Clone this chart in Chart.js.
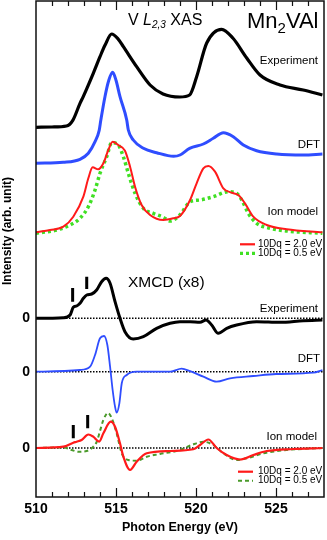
<!DOCTYPE html>
<html>
<head>
<meta charset="utf-8">
<script src="https://cdn.jsdelivr.net/npm/chart.js@4.4.1/dist/chart.umd.min.js"></script>
<style>
  html, body { margin: 0; padding: 0; background: #fff; }
</style>
</head>
<body>
<canvas id="mcd-chart" width="327" height="540"></canvas>
<script>
const FONT = '"Liberation Sans", Arial, Helvetica, sans-serif';

// photon energy axis (eV)
const eMin = 510;
const eMax = 528;
const xTicks = [510, 515, 520, 525];

// baselines of the stacked traces (arb. unit)
const baseXasExp = 369.7;
const baseXasDft = 333.7;
const baseXasIon = 264.7;
const zeroMcdExp = 178.7;
const zeroMcdDft = 125.3;
const zeroMcdIon = 49;
const zeroLevels = [zeroMcdExp, zeroMcdDft, zeroMcdIon];

// V L2,3 XAS - experiment
const xasExpE = [510.0, 511.0, 511.9, 512.3, 512.75, 512.96, 513.58, 514.0, 514.31, 514.73, 515.1, 515.46, 516.29, 517.13, 517.94, 519.0, 519.6, 520.04, 520.67, 521.6, 522.3, 523.17, 524.0, 525.25, 526.7, 527.9];
const xasExp = [0, 0.3, 1.3, 7, 24, 31, 54, 70.6, 82, 93.3, 89, 80.6, 60.6, 42.3, 33.3, 30.3, 32.3, 50.6, 84.3, 98, 89.3, 69.3, 52.3, 42.3, 37.3, 32.3];

// XAS - DFT
const xasDftE = [510.0, 511.7, 512.75, 513.27, 513.69, 513.95, 514.05, 514.31, 514.55, 514.79, 515.0, 515.25, 515.67, 515.77, 516.08, 516.71, 517.54, 518.6, 519.0, 519.6, 520.46, 521.08, 521.71, 522.33, 522.96, 523.79, 525.04, 526.71, 527.9];
const xasDft = [0, 1, 4, 10, 21.6, 33, 43, 66.6, 83, 91, 83, 66.6, 43.3, 33.3, 23.3, 15, 10.6, 7, 8.3, 15, 19.3, 25, 30.6, 26.6, 18.3, 12.6, 9.3, 8.3, 9.3];

// XAS - ion model, 10Dq = 2.0 eV
const xasIon20E = [510.0, 510.88, 511.71, 512.33, 512.96, 513.27, 513.54, 513.89, 514.21, 514.52, 514.79, 515.14, 515.56, 515.88, 516.19, 516.6, 517.13, 517.96, 518.58, 519.0, 519.63, 520.04, 520.46, 520.77, 521.19, 521.71, 522.23, 522.64, 523.06, 523.58, 524.42, 525.67, 527.9];
const xasIon20 = [0, 2.3, 5.6, 15.6, 35.6, 54, 65, 63, 69, 82.3, 90.6, 87.3, 81.6, 65.6, 45.6, 27.3, 17.3, 12.3, 14, 16.3, 32.3, 49, 64, 66.3, 60.6, 44, 39.6, 37.3, 29, 15.6, 7.3, 3, 0];

// XAS - ion model, 10Dq = 0.5 eV
const xasIon05E = [510.0, 511.29, 512.13, 512.75, 513.27, 513.69, 514.0, 514.42, 514.73, 515.14, 515.46, 515.77, 516.19, 516.71, 517.33, 517.96, 518.38, 519.0, 519.63, 520.25, 521.08, 522.02, 522.54, 522.86, 523.27, 523.79, 524.63, 525.67, 527.9];
const xasIon05 = [-1, 2.3, 7.3, 14, 25.6, 42.3, 59, 75.6, 89.6, 87.3, 75.6, 59, 39, 24, 19, 15, 11.3, 17.5, 30.6, 32.3, 35.6, 40.6, 39, 32.3, 19, 9, 4, 1.3, -1];

// XMCD (x8) - experiment
const mcdExpE = [510.0, 511.71, 512.13, 512.33, 512.54, 512.75, 512.96, 513.17, 513.48, 513.79, 514.1, 514.38, 514.63, 514.94, 515.25, 515.56, 516.08, 516.71, 517.54, 518.38, 519.0, 519.63, 520.25, 520.63, 520.98, 521.39, 521.92, 522.54, 523.79, 525.25, 526.7, 527.9];
const mcdExp = [0, 0.6, 3.3, 11, 12.3, 15, 20, 23.3, 24.3, 28.3, 36.6, 40, 35, 16.6, 0, -13.4, -20.7, -18.4, -10, -5, -3.4, -3.4, -4, -1.7, -6.7, -15, -10, -6.7, -3.4, -4, -2.4, -1.7];

// XMCD - DFT
const mcdDftE = [510.0, 512.75, 513.38, 513.69, 514.0, 514.25, 514.46, 514.63, 514.79, 514.94, 515.04, 515.21, 515.36, 515.67, 516.29, 517.54, 518.4, 519.1, 519.63, 520.46, 521.29, 522.13, 523.58, 525.0, 527.33, 527.9];
const mcdDft = [0, 1.7, 5, 16.7, 33.4, 35.7, 26.7, 5, -18.3, -35, -41, -31.6, -11.6, -3.3, 0, 0, 0, 3, 0.5, -5, -10, -6.6, -4.3, -2.3, -1, 1.7];

// XMCD - ion model, 10Dq = 2.0 eV
const mcdIon20E = [510.0, 511.71, 512.33, 512.54, 512.85, 513.27, 513.58, 513.95, 514.21, 514.67, 514.94, 515.25, 515.46, 515.88, 516.29, 516.92, 518.38, 519.83, 520.25, 520.77, 521.29, 521.92, 522.75, 523.58, 524.42, 526.08, 527.9];
const mcdIon20 = [0, 1.3, 5.3, 6.3, 8, 13.5, 11.3, 6.3, 14.7, 26.3, 21.3, 4.7, -8.7, -22, -13.7, -5.3, -3, -1.3, 3, 8.5, 0, -7, -11.5, -7, -3, -1, 0];

// XMCD - ion model, 10Dq = 0.5 eV
const mcdIon05E = [510.0, 511.71, 512.23, 512.64, 513.17, 513.58, 513.79, 514.0, 514.21, 514.5, 514.73, 515.04, 515.36, 515.77, 516.29, 516.92, 517.75, 519.0, 519.73, 520.46, 521.08, 521.71, 522.54, 523.17, 524.21, 525.67, 527.9];
const mcdIon05 = [0, 0.5, -2, -3.7, -3, 1.3, 6, 17, 28, 35, 30, 14.7, -5.3, -12, -12.7, -8.7, -6, -2, 3, 6.3, 3, -5.3, -12, -10.3, -5.3, -2, 0];

// multiplet markers (energy, bottom, top) relative to zero line
const markExpE = [512.29, 513.17];
const markExpLo = [16.6, 29.3];
const markExpHi = [30.3, 41.6];
const markIonE = [512.33, 513.23];
const markIonLo = [9.7, 19.7];
const markIonHi = [23, 33];

const trace = (es, vs, base) => es.map((e, i) => ({ x: e, y: vs[i] + base }));
const bars = (es, lo, hi, base) => es.flatMap((e, i) => [
  { x: e, y: lo[i] + base }, { x: e, y: hi[i] + base }, { x: e, y: NaN }
]);
const zeroLine = base => [{ x: eMin, y: base }, { x: eMax, y: base }];

const line = (data, color, width, extra) => Object.assign({
  data: data,
  borderColor: color,
  borderWidth: width,
  pointRadius: 0,
  fill: false,
  cubicInterpolationMode: 'monotone'
}, extra || {});

const decor = {
  id: 'decor',
  afterDraw(chart) {
    const { ctx, chartArea: a, scales: { x } } = chart;
    ctx.save();
    // frame
    ctx.strokeStyle = '#111';
    ctx.lineWidth = 1.5;
    ctx.strokeRect(a.left, a.top, a.right - a.left, a.bottom - a.top);
    // inward ticks, top and bottom
    ctx.lineWidth = 1.2;
    ctx.beginPath();
    for (let e = eMin + 1; e < eMax; e++) {
      const px = Math.round(x.getPixelForValue(e)) + 0.5;
      const len = e % 5 === 0 ? 9 : 5;
      ctx.moveTo(px, a.bottom); ctx.lineTo(px, a.bottom - len);
      ctx.moveTo(px, a.top); ctx.lineTo(px, a.top + len);
    }
    ctx.stroke();

    ctx.fillStyle = '#000';
    ctx.textBaseline = 'alphabetic';
    ctx.textAlign = 'left';
    // V L2,3 XAS
    let tx = 128;
    const run = (txt, font, y) => { ctx.font = font; ctx.fillText(txt, tx, y); tx += ctx.measureText(txt).width; };
    run('V ', '16px ' + FONT, 25);
    run('L', 'italic 16px ' + FONT, 25);
    run('2,3', 'italic 10px ' + FONT, 28);
    run(' XAS', '16px ' + FONT, 25);
    // Mn2VAl
    tx = 247;
    run('Mn', '22px ' + FONT, 28);
    run('2', '15px ' + FONT, 33);
    run('VAl', '22px ' + FONT, 28);
    // XMCD (x8)
    ctx.font = '15.5px ' + FONT;
    ctx.fillText('XMCD (x8)', 128, 287);

    // trace labels
    ctx.textAlign = 'right';
    ctx.font = '11.5px ' + FONT;
    ctx.fillText('Experiment', 318, 64);
    ctx.fillText('DFT', 320, 148);
    ctx.fillText('Ion model', 318, 215);
    ctx.fillText('Experiment', 318, 311.5);
    ctx.fillText('DFT', 320, 362);
    ctx.fillText('Ion model', 317, 440);

    // legends
    const legend = (x0, y0, dy, green, greenW, greenDash) => {
      ctx.lineCap = 'butt';
      ctx.strokeStyle = '#ff1a1a'; ctx.lineWidth = 2.2; ctx.setLineDash([]);
      ctx.beginPath(); ctx.moveTo(x0, y0); ctx.lineTo(x0 + 15, y0); ctx.stroke();
      ctx.strokeStyle = green; ctx.lineWidth = greenW; ctx.setLineDash(greenDash);
      ctx.beginPath(); ctx.moveTo(x0, y0 + dy); ctx.lineTo(x0 + 15, y0 + dy); ctx.stroke();
      ctx.setLineDash([]);
      ctx.textAlign = 'left'; ctx.textBaseline = 'middle';
      ctx.font = '10px ' + FONT;
      ctx.fillText('10Dq = 2.0 eV', 258, y0);
      ctx.fillText('10Dq = 0.5 eV', 258, y0 + dy);
    };
    legend(240, 244.3, 9, '#3fe023', 3.2, [3, 3]);
    legend(238, 471.7, 9, '#4a9a2a', 2, [4, 3]);

    // y title
    ctx.translate(8, 231);
    ctx.rotate(-Math.PI / 2);
    ctx.textAlign = 'center';
    ctx.textBaseline = 'middle';
    ctx.font = 'bold 12px ' + FONT;
    ctx.fillText('Intensity (arb. unit)', 0, 0);
    ctx.restore();
  }
};

new Chart(document.getElementById('mcd-chart'), {
  type: 'line',
  data: {
    datasets: [
      line(trace(xasExpE, xasExp, baseXasExp), '#000', 3.2, { order: 1 }),
      line(trace(xasDftE, xasDft, baseXasDft), '#2f4dff', 3, { order: 1 }),
      line(trace(xasIon20E, xasIon20, baseXasIon), '#ff1a1a', 2, { order: 1 }),
      line(trace(xasIon05E, xasIon05, baseXasIon), '#3fe023', 3.5, { order: 2, borderDash: [3, 3] }),
      line(trace(mcdExpE, mcdExp, zeroMcdExp), '#000', 3, { order: 1 }),
      line(trace(mcdDftE, mcdDft, zeroMcdDft), '#2f4dff', 1.8, { order: 1 }),
      line(trace(mcdIon20E, mcdIon20, zeroMcdIon), '#ff1a1a', 2.2, { order: 1 }),
      line(trace(mcdIon05E, mcdIon05, zeroMcdIon), '#4a9a2a', 2, { order: 2, borderDash: [4, 3] }),
      line(bars(markExpE, markExpLo, markExpHi, zeroMcdExp), '#000', 3, { order: 1, spanGaps: false, cubicInterpolationMode: 'default', tension: 0 }),
      line(bars(markIonE, markIonLo, markIonHi, zeroMcdIon), '#000', 3, { order: 1, spanGaps: false, cubicInterpolationMode: 'default', tension: 0 }),
      ...zeroLevels.map(z => line(zeroLine(z), '#000', 1.5, { order: 5, borderDash: [1.5, 1.5] }))
    ]
  },
  options: {
    responsive: false,
    animation: false,
    layout: { padding: { left: 0, right: 3, top: 1, bottom: 0 } },
    plugins: {
      legend: { display: false },
      tooltip: { enabled: false }
    },
    scales: {
      x: {
        type: 'linear',
        min: eMin,
        max: eMax,
        afterFit: s => { s.height = 43; s.paddingLeft = 0; s.paddingRight = 0; },
        afterBuildTicks: s => { s.ticks = xTicks.map(v => ({ value: v })); },
        grid: { display: false, drawTicks: false },
        border: { display: false },
        ticks: { padding: 4, color: '#000', maxRotation: 0, autoSkip: false, font: { family: FONT, size: 14, weight: 'bold' } },
        title: { display: true, text: 'Photon Energy (eV)', color: '#000', padding: { top: 0, bottom: 4.5 }, font: { family: FONT, size: 12.5, weight: 'bold' } }
      },
      y: {
        min: 0,
        max: 496,
        afterFit: s => { s.width = 36; s.paddingTop = 0; s.paddingBottom = 0; },
        afterBuildTicks: s => { s.ticks = zeroLevels.map(v => ({ value: v })); },
        grid: { display: false, drawTicks: false },
        border: { display: false },
        ticks: { callback: () => '0', padding: 6, color: '#000', font: { family: FONT, size: 14, weight: 'bold' } }
      }
    }
  },
  plugins: [decor]
});
</script>
</body>
</html>
